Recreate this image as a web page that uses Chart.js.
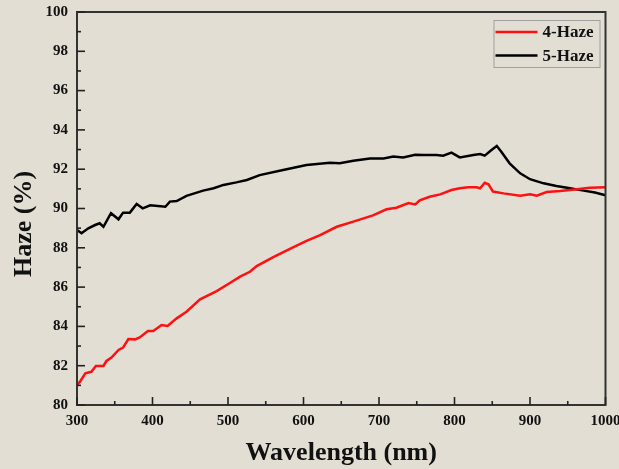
<!DOCTYPE html>
<html>
<head>
<meta charset="utf-8">
<script src="https://cdn.jsdelivr.net/npm/chart.js@4/dist/chart.umd.min.js"></script>
<style>
  html, body { margin: 0; padding: 0; background: #e3ded4; }
  #wrap { width: 619px; height: 469px; }
</style>
</head>
<body>
<div id="wrap"><canvas id="c" width="619" height="469"></canvas></div>
<script>
const seriesLabels = ["4-Haze", "5-Haze"];
const seriesColors = ["#ff1010", "#000000"];

const wavelength4 = [300,304,311,319,325,335,339,346,355,361,368,377,383,394,401,412,420,432,445,463,485,503,516,529,538,560,582,604,622,644,666,692,710,723,739,748,754,767,781,796,807,818,829,834,840,845,851,865,887,900,909,922,940,962,979,1000];
const haze4 = [81.02,81.19,81.61,81.69,81.98,81.99,82.24,82.43,82.8,82.92,83.36,83.34,83.44,83.77,83.77,84.07,84.02,84.41,84.75,85.38,85.8,86.22,86.53,86.78,87.07,87.52,87.94,88.35,88.65,89.07,89.33,89.65,89.96,90.04,90.28,90.21,90.42,90.6,90.72,90.94,91.03,91.08,91.08,91.03,91.31,91.23,90.86,90.77,90.65,90.72,90.65,90.84,90.89,90.98,91.06,91.08];

const wavelength5 = [300,306,315,324,330,335,345,355,361,370,379,387,397,417,423,432,445,467,481,494,511,525,542,573,604,635,648,666,688,706,719,732,748,759,776,785,796,807,825,834,840,849,856,862,873,887,900,918,935,953,971,986,1000];
const haze5 = [88.91,88.74,88.99,89.16,89.25,89.07,89.76,89.45,89.79,89.79,90.23,90.01,90.16,90.09,90.35,90.38,90.64,90.91,91.03,91.2,91.33,91.45,91.7,91.96,92.21,92.33,92.30,92.43,92.55,92.55,92.64,92.6,92.74,92.72,92.72,92.69,92.84,92.6,92.72,92.77,92.69,92.98,93.18,92.89,92.3,91.79,91.49,91.28,91.15,91.03,90.91,90.81,90.67];

const xTitle = "Wavelength (nm)";
const yTitle = "Haze (%)";
const xMin = 300, xMax = 1000, xStep = 100, xMinor = 50;
const yMin = 80, yMax = 100, yStep = 2, yMinor = 1;

const FONT = "'Liberation Serif', 'Times New Roman', serif";

function toPoints(xs, ys) { return xs.map((x, i) => ({ x: x, y: ys[i] })); }

const framePlugin = {
  id: 'frameTicks',
  afterDraw(chart) {
    const ctx = chart.ctx;
    const a = chart.chartArea;
    const xs = chart.scales.x, ys = chart.scales.y;
    ctx.save();
    ctx.strokeStyle = '#333333';
    ctx.lineWidth = 2;
    ctx.strokeRect(a.left, a.top, a.right - a.left, a.bottom - a.top);
    ctx.lineWidth = 1.6;
    ctx.strokeStyle = '#222222';
    for (let v = xMin; v <= xMax; v += xMinor) {
      const p = xs.getPixelForValue(v);
      const len = (v % xStep === 0) ? 8 : 4;
      ctx.beginPath(); ctx.moveTo(p, a.bottom); ctx.lineTo(p, a.bottom - len); ctx.stroke();
    }
    for (let v = yMin; v <= yMax; v += yMinor) {
      const p = ys.getPixelForValue(v);
      const len = (v % yStep === 0) ? 8 : 4;
      ctx.beginPath(); ctx.moveTo(a.left, p); ctx.lineTo(a.left + len, p); ctx.stroke();
    }
    // y axis title
    ctx.fillStyle = '#111111';
    ctx.font = "bold 26px " + FONT;
    ctx.textAlign = 'center';
    ctx.textBaseline = 'middle';
    ctx.translate(24, 224);
    ctx.rotate(-Math.PI / 2);
    ctx.fillText(yTitle, 0, 0);
    ctx.restore();

    // legend
    ctx.save();
    const bx = a.right - 112, by = a.top + 8, bw = 106, bh = 47;
    ctx.strokeStyle = '#a0a0a0';
    ctx.lineWidth = 1;
    ctx.strokeRect(bx + 0.5, by + 0.5, bw, bh);
    ctx.font = "bold 17px " + FONT;
    ctx.textAlign = 'left';
    ctx.textBaseline = 'middle';
    chart.data.datasets.forEach((ds, i) => {
      const ly = by + 12 + i * 23.5;
      ctx.strokeStyle = ds.borderColor;
      ctx.lineWidth = 2.5;
      ctx.beginPath(); ctx.moveTo(bx + 2, ly); ctx.lineTo(bx + 44, ly); ctx.stroke();
      ctx.fillStyle = '#111111';
      ctx.fillText(ds.label, bx + 49, ly + 1);
    });
    ctx.restore();
  }
};

new Chart(document.getElementById('c'), {
  type: 'line',
  data: {
    datasets: [
      { label: seriesLabels[0], data: toPoints(wavelength4, haze4), borderColor: seriesColors[0], backgroundColor: seriesColors[0], borderWidth: 2.5, pointRadius: 0, tension: 0, fill: false },
      { label: seriesLabels[1], data: toPoints(wavelength5, haze5), borderColor: seriesColors[1], backgroundColor: seriesColors[1], borderWidth: 2.5, pointRadius: 0, tension: 0, fill: false }
    ]
  },
  options: {
    responsive: false,
    animation: false,
    devicePixelRatio: 1,
    layout: { padding: { left: 0, right: 13.5, top: 12, bottom: 0 } },
    plugins: { legend: { display: false }, tooltip: { enabled: false } },
    scales: {
      x: {
        type: 'linear', min: xMin, max: xMax,
        grid: { display: false, drawTicks: false },
        border: { display: false },
        ticks: { stepSize: xStep, padding: 7, color: '#111111', font: { family: FONT, size: 15, weight: 'bold' }, maxRotation: 0, callback: (v) => String(v) },
        title: { display: true, text: xTitle, color: '#111111', font: { family: FONT, size: 26, weight: 'bold' }, padding: { top: 0, bottom: 0 } },
        afterFit(scale) { scale.height = 64; scale.paddingLeft = 0; scale.paddingRight = 0; }
      },
      y: {
        type: 'linear', min: yMin, max: yMax,
        grid: { display: false, drawTicks: false },
        border: { display: false },
        ticks: { stepSize: yStep, padding: 9, color: '#111111', font: { family: FONT, size: 15, weight: 'bold' }, callback: (v) => String(v) },
        afterFit(scale) { scale.width = 77; scale.paddingTop = 0; scale.paddingBottom = 0; }
      }
    }
  },
  plugins: [framePlugin]
});
</script>
</body>
</html>
